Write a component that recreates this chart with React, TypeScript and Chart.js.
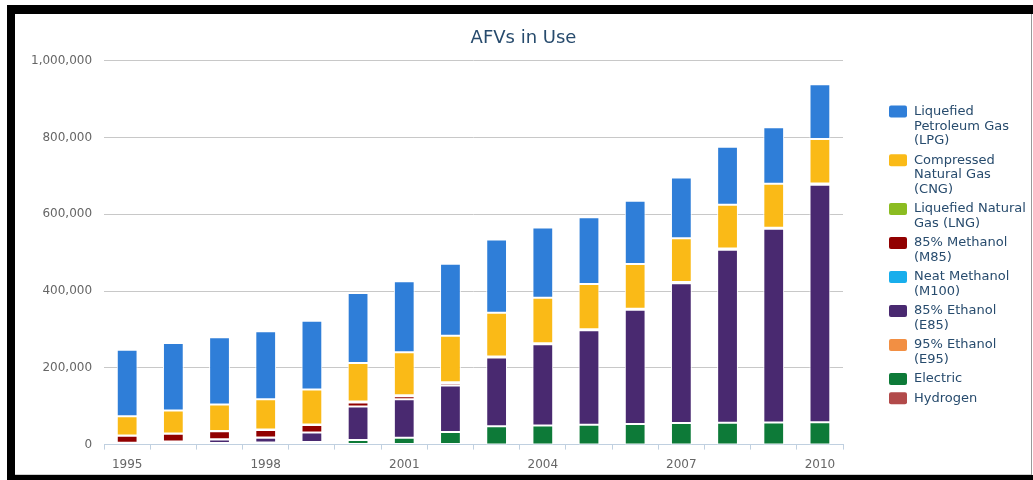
import React, { useEffect, useRef } from "react";
import { Chart, registerables } from "chart.js";

Chart.register(...registerables);

const years = ["1995", "1996", "1997", "1998", "1999", "2000", "2001", "2002", "2003", "2004", "2005", "2006", "2007", "2008", "2009", "2010"];

const yTicks = [0, 200000, 400000, 600000, 800000, 1000000];

const lpg = [172806, 175585, 175679, 177183, 178610, 181994, 185053, 187680, 190438, 182864, 173795, 164846, 158254, 151049, 147030, 143037];
const cng = [50218, 60144, 68571, 78782, 91267, 100750, 111851, 120839, 114406, 118532, 117699, 116131, 114270, 113973, 114270, 115863];
const lng = [603, 663, 813, 1172, 1681, 2090, 2576, 2708, 2640, 2717, 2748, 2798, 2781, 3101, 3176, 3354];
const m85 = [18319, 20265, 21040, 19648, 18964, 10426, 7827, 5873, 0, 0, 0, 0, 0, 0, 0, 0];
const m100 = [386, 172, 172, 200, 198, 0, 0, 0, 0, 0, 0, 0, 0, 0, 0, 0];
const e85 = [1527, 4536, 9130, 12788, 24604, 87570, 100303, 120951, 179090, 211800, 246363, 297512, 364384, 450327, 504297, 618505];
const e95 = [33, 33, 14, 14, 14, 4, 0, 0, 0, 0, 0, 0, 0, 0, 0, 0];
const electric = [2860, 3280, 4453, 5243, 6964, 11830, 17847, 33047, 47485, 49536, 51398, 53526, 55730, 56901, 57185, 57462];
const hydrogen = [0, 0, 0, 0, 0, 0, 0, 0, 9, 43, 119, 159, 223, 313, 357, 421];

// legend order (top of stack first)
const seriesNames = [
  "Liquefied Petroleum Gas (LPG)",
  "Compressed Natural Gas (CNG)",
  "Liquefied Natural Gas (LNG)",
  "85% Methanol (M85)",
  "Neat Methanol (M100)",
  "85% Ethanol (E85)",
  "95% Ethanol (E95)",
  "Electric",
  "Hydrogen",
];
const legendLines = [
  ["Liquefied", "Petroleum Gas", "(LPG)"],
  ["Compressed", "Natural Gas", "(CNG)"],
  ["Liquefied Natural", "Gas (LNG)"],
  ["85% Methanol", "(M85)"],
  ["Neat Methanol", "(M100)"],
  ["85% Ethanol", "(E85)"],
  ["95% Ethanol", "(E95)"],
  ["Electric"],
  ["Hydrogen"],
];
const seriesValues = [lpg, cng, lng, m85, m100, e85, e95, electric, hydrogen];
const seriesColors = ["#2F7ED8", "#FABA17", "#8BBC21", "#910000", "#18AEEC", "#492970", "#F28F43", "#0D7A38", "#B24A4A"];

const FONT = "'DejaVu Sans', Verdana, sans-serif";

const sideLegend = {
  id: "sideLegend",
  afterDraw(chart: any) {
    const { ctx, chartArea } = chart;
    const x0 = chartArea.right + 46;
    let y = chartArea.top + 51;
    const lh = 14.7;
    ctx.save();
    ctx.font = `13px ${FONT}`;
    ctx.textBaseline = "middle";
    ctx.textAlign = "left";
    seriesNames.forEach((_, i) => {
      ctx.fillStyle = seriesColors[i];
      ctx.beginPath();
      if ((ctx as any).roundRect) {
        (ctx as any).roundRect(x0, y - 6, 18, 12, 2);
        ctx.fill();
      } else {
        ctx.fillRect(x0, y - 6, 18, 12);
      }
      ctx.fillStyle = "#274b6d";
      legendLines[i].forEach((line, j) => ctx.fillText(line, x0 + 25, y + j * lh));
      y += legendLines[i].length * lh + 4.6;
    });
    ctx.restore();
  },
};

export default function App() {
  const ref = useRef<HTMLCanvasElement | null>(null);

  useEffect(() => {
    if (!ref.current) return;
    const datasets = seriesNames
      .map((name, i) => ({
        label: name,
        data: seriesValues[i],
        backgroundColor: seriesColors[i],
        borderColor: "#ffffff",
        borderWidth: 1,
        borderSkipped: false as const,
        barPercentage: 0.45,
        categoryPercentage: 1,
      }))
      .reverse();

    const chart = new Chart(ref.current, {
      type: "bar",
      data: { labels: years, datasets },
      plugins: [sideLegend],
      options: {
        animation: false,
        responsive: false,
        layout: { padding: { left: 4, right: 3, top: 0, bottom: -5 } },
        plugins: {
          legend: { display: false },
          tooltip: { enabled: false },
          title: {
            display: true,
            text: "AFVs in Use",
            color: "#274b6d",
            font: { family: FONT, size: 18, weight: "normal" },
            padding: { top: 14, bottom: 11 },
          },
        },
        scales: {
          x: {
            stacked: true,
            offset: true,
            grid: {
              offset: true,
              drawOnChartArea: false,
              drawTicks: true,
              tickLength: 5,
              color: "#C0D0E0",
            },
            border: { display: true, color: "#C0D0E0", width: 1 },
            ticks: {
              autoSkip: false,
              maxRotation: 0,
              padding: 8,
              color: "#666666",
              font: { family: FONT, size: 12 },
              callback: (_v: any, idx: number) => (idx % 3 === 0 ? years[idx] : ""),
            },
          },
          y: {
            stacked: true,
            min: yTicks[0],
            max: yTicks[yTicks.length - 1],
            afterBuildTicks: (axis: any) => {
              axis.ticks = yTicks.map((v) => ({ value: v }));
            },
            grid: { color: "#C8C8C8", drawTicks: false, lineWidth: 1 },
            border: { display: false },
            ticks: {
              padding: 12,
              color: "#666666",
              font: { family: FONT, size: 12 },
              callback: (v: any) => Number(v).toLocaleString("en-US"),
            },
          },
          legendSpace: {
            type: "linear",
            position: "right",
            display: true,
            grid: { display: false, drawTicks: false },
            border: { display: false },
            ticks: { display: false },
            afterFit: (axis: any) => {
              axis.width = 185;
            },
          },
        },
      },
    });
    return () => chart.destroy();
  }, []);

  return (
    <div style={{ position: "fixed", left: 0, top: 0, width: 1033, height: 480, background: "#fff", overflow: "hidden" }}>
      <canvas ref={ref} width={1016} height={461} style={{ position: "absolute", left: 15, top: 14, width: 1016, height: 461 }} />
      <div style={{ position: "absolute", left: 7, top: 5, width: 1026, height: 9, background: "#000" }} />
      <div style={{ position: "absolute", left: 7, top: 5, width: 8, height: 475, background: "#000" }} />
      <div style={{ position: "absolute", left: 7, top: 475, width: 1026, height: 5, background: "#000" }} />
      <div style={{ position: "absolute", left: 15, top: 474, width: 1016, height: 1, background: "#cfcfcf" }} />
      <div style={{ position: "absolute", left: 1031, top: 14, width: 1, height: 461, background: "#9a9a9a" }} />
    </div>
  );
}
